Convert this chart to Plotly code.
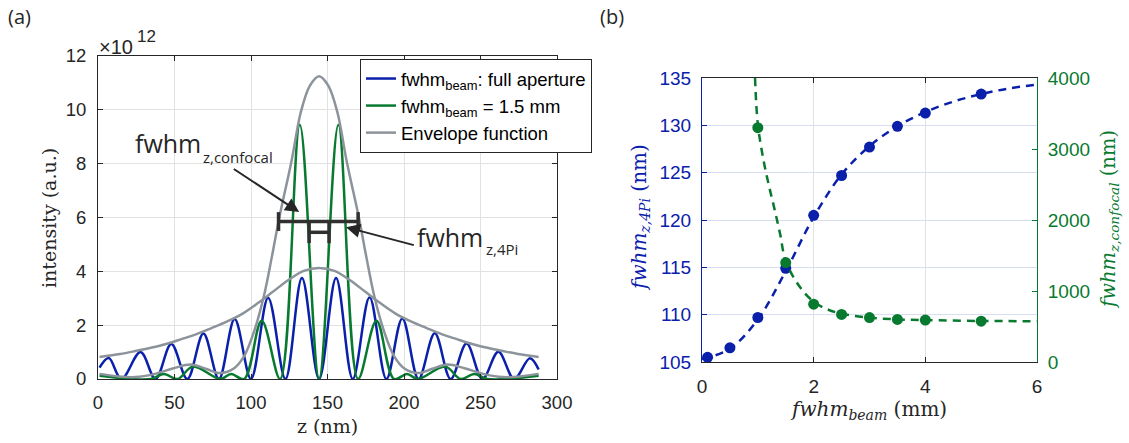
import plotly.graph_objects as go

# ---------------- Panel (a): axial intensity profiles (units of 1e12) ----------------
z_full = [1, 7, 15.3, 27.8, 37.6, 47.9, 58.4, 68.9, 79, 89.3, 100, 111.2, 122.5, 133.3, 144.5,
          155.6, 166.5, 177.5, 188.5, 198.9, 209.5, 220.1, 230.5, 240.9, 251.3, 261.7, 272, 282.3, 288]
I_full = [0.42, 0.78, 0, 1.0, 0, 1.3, 0, 1.69, 0, 2.23, 0, 3.02, 0, 3.75, 0,
          3.75, 0, 3.04, 0, 2.25, 0, 1.7, 0, 1.32, 0, 1.01, 0, 0.77, 0.35]

z_15 = [1, 34.5, 43, 52, 62, 80, 87, 95.5, 107, 119, 131.9, 144.5,
        157.1, 170, 182, 193.5, 202, 209, 227, 237, 246, 254.5, 288]
I_15 = [0.12, 0, 0.19, 0, 0.46, 0, 0.19, 0, 2.16, 0, 9.45, 0,
        9.45, 0, 2.16, 0, 0.19, 0, 0.46, 0, 0.19, 0, 0.12]

z_env_wide = [1, 14.5, 24.5, 34.5, 44.5, 54.5, 64.5, 74.5, 84.5, 94.5, 104.5, 114.5, 124.5, 134.5, 144.5,
              154.5, 164.5, 174.5, 184.5, 194.5, 204.5, 214.5, 224.5, 234.5, 244.5, 254.5, 264.5, 274.5, 288]
env_wide = [0.82, 0.93, 1.04, 1.16, 1.3, 1.48, 1.67, 1.9, 2.14, 2.43, 2.82, 3.25, 3.68, 4.02, 4.12,
            4.02, 3.68, 3.25, 2.82, 2.43, 2.14, 1.9, 1.67, 1.48, 1.3, 1.16, 1.04, 0.93, 0.82]

z_env_narrow = [1, 12.5, 24.5, 36.5, 49.5, 60.5, 70.5, 79.5, 88.5, 95.5, 102.5, 108.5, 113.5, 118.5, 126.5,
                132.5, 138.5, 144.5, 150.5, 156.5, 162.5, 170.5, 175.5, 180.5, 186.5, 193.5, 200.5,
                209.5, 218.5, 228.5, 239.5, 252.5, 264.5, 276.5, 288]
env_narrow = [0.19, 0.10, 0.07, 0.18, 0.40, 0.54, 0.38, 0.22, 0.38, 0.85, 1.85, 3.1, 4.5, 6.0, 8.1,
              9.9, 10.9, 11.25, 10.9, 9.9, 8.1, 6.0, 4.5, 3.1, 1.85, 0.85, 0.38,
              0.22, 0.38, 0.54, 0.40, 0.18, 0.07, 0.10, 0.19]

# FWHM markers (z range in nm, level in units of 1e12)
fwhm_conf_z = [118, 170]
fwhm_conf_level = 5.85
fwhm_4pi_z = [138, 151]
fwhm_4pi_level = 5.45

# ---------------- Panel (b): FWHM vs beam FWHM ----------------
beam_4pi = [0.1, 0.5, 1, 1.5, 2, 2.5, 3, 3.5, 4, 5]
fwhm_4pi = [105.5, 106.5, 109.7, 114.9, 120.5, 124.7, 127.7, 129.9, 131.3, 133.3]
fit_beam_4pi = [0, 0.5, 1, 1.5, 2, 2.5, 3, 3.5, 4, 4.5, 5, 5.5, 6]
fit_4pi = [105.3, 106.4, 109.5, 114.6, 120.3, 124.8, 127.8, 129.9, 131.4, 132.5, 133.3, 133.9, 134.3]

beam_conf = [1, 1.5, 2, 2.5, 3, 3.5, 4, 5]
fwhm_conf = [3300, 1400, 815, 670, 625, 600, 590, 575]
fit_beam_conf = [0.95, 1.0, 1.1, 1.2, 1.3, 1.4, 1.5, 1.75, 2, 2.25, 2.5, 3, 3.5, 4, 5, 6]
fit_conf = [4000, 3350, 2850, 2480, 2150, 1800, 1420, 1060, 850, 740, 680, 625, 600, 590, 578, 575]

x_ticks_a = [0, 50, 100, 150, 200, 250, 300]
y_ticks_a = [0, 2, 4, 6, 8, 10, 12]

BLUE = "#0a20ab"
GREEN = "#087a30"
GREY = "#8c939b"
DARK = "#262626"
SANS = "Liberation Sans, Arial, sans-serif"
SERIF = "DejaVu Serif, serif"
LBL = "Open Sans, sans-serif"

fig = go.Figure()

fig.add_trace(go.Scatter(x=z_full, y=I_full, mode="lines", name="fwhm<sub>beam</sub>: full aperture",
                         line=dict(color=BLUE, width=2.5, shape="spline", smoothing=1),
                         xaxis="x", yaxis="y"))
fig.add_trace(go.Scatter(x=z_15, y=I_15, mode="lines", name="fwhm<sub>beam</sub> = 1.5 mm",
                         line=dict(color=GREEN, width=2.5, shape="spline", smoothing=1),
                         xaxis="x", yaxis="y"))
fig.add_trace(go.Scatter(x=z_env_wide, y=env_wide, mode="lines", name="Envelope function",
                         legendgroup="env",
                         line=dict(color=GREY, width=2.5, shape="spline", smoothing=1),
                         xaxis="x", yaxis="y"))
fig.add_trace(go.Scatter(x=z_env_narrow, y=env_narrow, mode="lines", name="Envelope function",
                         legendgroup="env", showlegend=False,
                         line=dict(color=GREY, width=2.5, shape="spline", smoothing=1),
                         xaxis="x", yaxis="y"))

# FWHM bars
cap_big = 0.35
cap_small = 0.4
bx = [fwhm_conf_z[0], fwhm_conf_z[1], None,
      fwhm_conf_z[0], fwhm_conf_z[0], None,
      fwhm_conf_z[1], fwhm_conf_z[1], None,
      fwhm_4pi_z[0], fwhm_4pi_z[1], None,
      fwhm_4pi_z[0], fwhm_4pi_z[0], None,
      fwhm_4pi_z[1], fwhm_4pi_z[1]]
by = [fwhm_conf_level, fwhm_conf_level, None,
      fwhm_conf_level - cap_big, fwhm_conf_level + cap_big, None,
      fwhm_conf_level - cap_big, fwhm_conf_level + cap_big, None,
      fwhm_4pi_level, fwhm_4pi_level, None,
      fwhm_4pi_level - cap_small, fwhm_4pi_level + cap_small, None,
      fwhm_4pi_level - cap_small, fwhm_4pi_level + cap_small]
fig.add_trace(go.Scatter(x=bx, y=by, mode="lines", showlegend=False, hoverinfo="skip",
                         line=dict(color="#303030", width=3.5), xaxis="x", yaxis="y"))

# Panel (b) traces
fig.add_trace(go.Scatter(x=fit_beam_4pi, y=fit_4pi, mode="lines", showlegend=False,
                         line=dict(color=BLUE, width=2.5, dash="8px,6px", shape="spline"),
                         xaxis="x2", yaxis="y2"))
fig.add_trace(go.Scatter(x=beam_4pi, y=fwhm_4pi, mode="markers", showlegend=False,
                         marker=dict(color=BLUE, size=11), xaxis="x2", yaxis="y2"))
fig.add_trace(go.Scatter(x=fit_beam_conf, y=fit_conf, mode="lines", showlegend=False,
                         line=dict(color=GREEN, width=2.5, dash="8px,6px", shape="spline"),
                         xaxis="x2", yaxis="y3"))
fig.add_trace(go.Scatter(x=beam_conf, y=fwhm_conf, mode="markers", showlegend=False,
                         marker=dict(color=GREEN, size=11), xaxis="x2", yaxis="y3"))

axis_common = dict(showline=True, linecolor=DARK, linewidth=1, ticks="inside", ticklen=5,
                   tickcolor=DARK, zeroline=False, showgrid=True, gridcolor="#e2e2e2",
                   gridwidth=1, automargin=False)

W, H = 1129, 443
fig.update_layout(
    width=W, height=H, autosize=False,
    margin=dict(l=0, r=0, t=0, b=0, pad=0),
    paper_bgcolor="white", plot_bgcolor="white",
    xaxis=dict(**axis_common, domain=[98 / W, 557 / W], range=[0, 300], tickvals=x_ticks_a,
               mirror="ticks", anchor="y",
               tickfont=dict(family=SANS, size=18.5, color=DARK), ticklabelstandoff=7),
    yaxis=dict(**axis_common, domain=[1 - 379 / H, 1 - 56 / H], range=[0, 12], tickvals=y_ticks_a,
               mirror="ticks", anchor="x",
               tickfont=dict(family=SANS, size=18.5, color=DARK), ticklabelstandoff=7),
    xaxis2=dict(**axis_common, domain=[702 / W, 1037 / W], range=[0, 6], dtick=2,
                mirror="ticks", anchor="y2",
                tickfont=dict(family=SANS, size=19, color=DARK), ticklabelstandoff=7),
    yaxis2=dict(showline=True, linecolor=BLUE, linewidth=1, ticks="inside", ticklen=5, tickcolor=BLUE,
                zeroline=False, showgrid=True, gridcolor="#d9ddf2", automargin=False,
                domain=[1 - 362 / H, 1 - 78 / H], range=[105, 135], dtick=5, anchor="x2",
                tickfont=dict(family=SANS, size=19, color=BLUE), ticklabelstandoff=6),
    yaxis3=dict(showline=True, linecolor=GREEN, linewidth=1, ticks="inside", ticklen=5, tickcolor=GREEN,
                zeroline=False, showgrid=False, overlaying="y2", side="right", anchor="x2",
                range=[0, 4000], dtick=1000, automargin=False,
                tickfont=dict(family=SANS, size=19, color=GREEN), ticklabelstandoff=6),
    legend=dict(x=360 / W, y=1 - 59 / H, xanchor="left", yanchor="top",
                bgcolor="white", bordercolor=DARK, borderwidth=1,
                font=dict(family=SANS, size=18.5, color="black"),
                itemwidth=30, tracegroupgap=0),
)

def paper_text(text, px, py, size, color=DARK, family=SANS, xanchor="center", angle=0):
    return dict(text=text, x=px / W, y=1 - py / H, xref="paper", yref="paper",
                xanchor=xanchor, yanchor="middle", showarrow=False, textangle=angle,
                font=dict(family=family, size=size, color=color))

ann = []
ann.append(paper_text("(a)", 6, 17, 20, family=LBL, xanchor="left"))
ann.append(paper_text("(b)", 598, 17, 20, family=LBL, xanchor="left"))
ann.append(paper_text("×10", 97, 47, 20, xanchor="left"))
ann.append(paper_text("12", 135, 37, 17, xanchor="left"))
# axis titles
ann.append(paper_text("z (nm)", 327, 426, 19, family=SERIF))
ann.append(paper_text("intensity (a.u.)", 49, 218, 19, family=SERIF, angle=-90))
ann.append(paper_text("<i>fwhm</i><sub><i>beam</i></sub> (mm)", 868, 410, 20, family=SERIF))
ann.append(paper_text("<i>fwhm</i><sub><i>z,4Pi</i></sub> (nm)", 640, 218, 20, family=SERIF,
                      color=BLUE, angle=-90))
ann.append(paper_text("<i>fwhm</i><sub><i>z,confocal</i></sub> (nm)", 1110, 220, 19.5, family=SERIF,
                      color=GREEN, angle=-90))
# fwhm labels
ann.append(dict(text="fwhm", x=22.8, y=8.75, xref="x", yref="y", xanchor="left", yanchor="middle",
                showarrow=False, font=dict(family=LBL, size=25, color=DARK)))
ann.append(dict(text="z,confocal", x=67, y=8.25, xref="x", yref="y", xanchor="left", yanchor="middle",
                showarrow=False, font=dict(family=LBL, size=15, color=DARK)))
ann.append(dict(text="fwhm", x=207.5, y=5.28, xref="x", yref="y", xanchor="left", yanchor="middle",
                showarrow=False, font=dict(family=LBL, size=25, color=DARK)))
ann.append(dict(text="z,4Pi", x=252, y=4.83, xref="x", yref="y", xanchor="left", yanchor="middle",
                showarrow=False, font=dict(family=LBL, size=15, color=DARK)))
# arrows
ann.append(dict(text="", x=131.5, y=6.2, ax=87.8, ay=7.84, xref="x", yref="y", axref="x", ayref="y",
                showarrow=True, arrowhead=2, arrowsize=1.4, arrowwidth=2, arrowcolor=DARK))
ann.append(dict(text="", x=162.1, y=5.64, ax=207.4, ay=4.96, xref="x", yref="y", axref="x", ayref="y",
                showarrow=True, arrowhead=2, arrowsize=1.4, arrowwidth=2, arrowcolor=DARK))
fig.update_layout(annotations=ann)

fig.write_html("out.html")
